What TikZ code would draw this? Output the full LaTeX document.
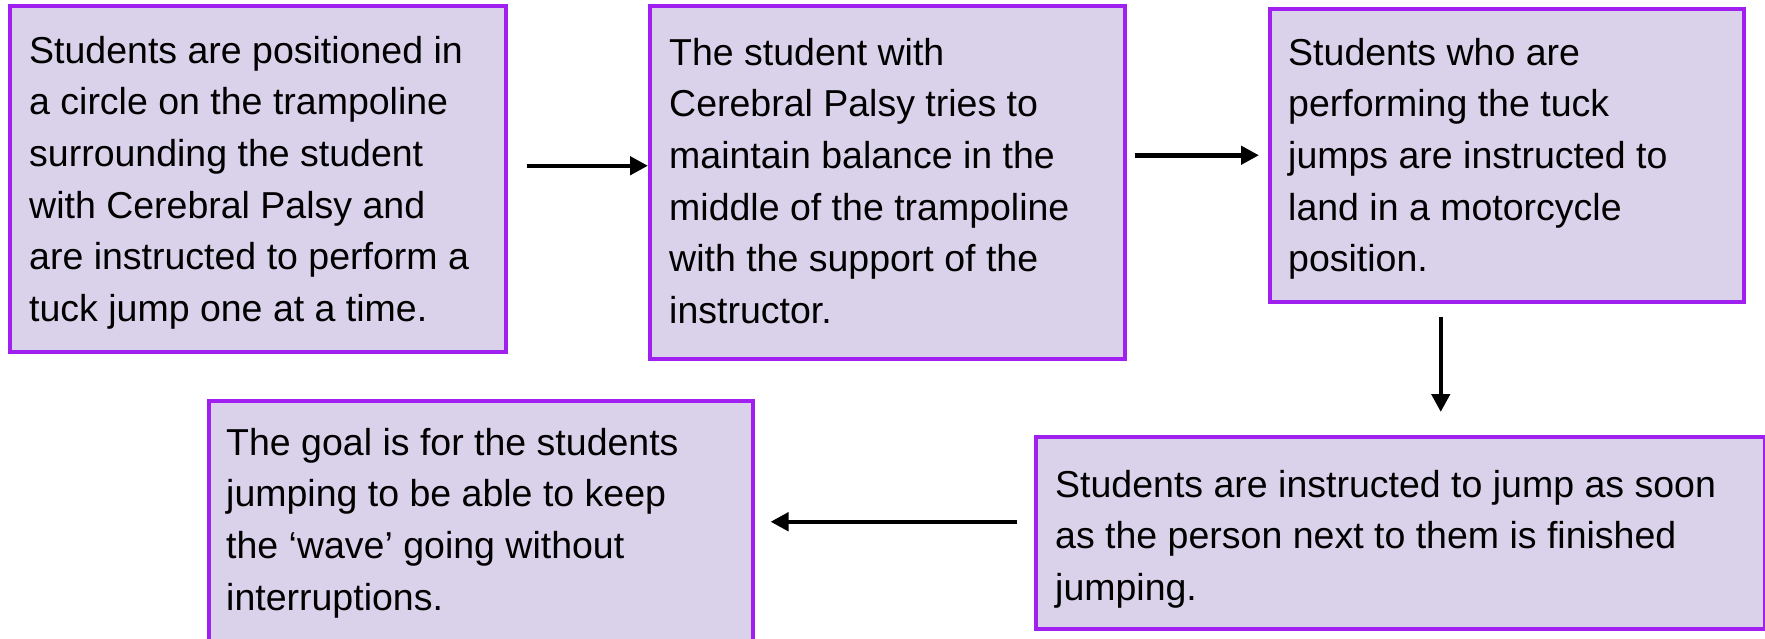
\documentclass[tikz,border=0pt]{standalone}
\usepackage{fontspec}
\setmainfont{Liberation Sans}
\usetikzlibrary{arrows.meta,calc}
\definecolor{boxfill}{RGB}{218,210,234}
\definecolor{boxline}{RGB}{160,32,240}
\begin{document}
\begin{tikzpicture}[x=1pt,y=-1pt,
  stepbox/.style={draw=boxline, fill=boxfill, line width=3.5pt, anchor=north west, inner sep=0pt},
  txt/.style={anchor=base west, inner sep=0pt, font=\fontsize{37.5}{51.7}\selectfont},
  flow/.style={line width=4.5pt, -{Triangle[length=18pt,width=18pt]}}]
\useasboundingbox (0,0) rectangle (1765,638);
\node[stepbox, minimum width=496pt, minimum height=346pt] (b1) at (8,4) {};
\node[stepbox, minimum width=475pt, minimum height=353pt] (b2) at (648,4) {};
\node[stepbox, minimum width=474pt, minimum height=293pt] (b3) at (1268,7) {};
\node[stepbox, minimum width=729pt, minimum height=192pt] (b4) at (1034,435) {};
\node[stepbox, minimum width=544pt, minimum height=260pt] (b5) at (207,399) {};
\node[txt] (t1) at (29,63) {\parbox[t]{800pt}{Students are positioned in\\
a circle on the trampoline\\
surrounding the student\\
with Cerebral Palsy and\\
are instructed to perform a\\
tuck jump one at a time.}};
\node[txt] (t2) at (669,65) {\parbox[t]{800pt}{The student with\\
Cerebral Palsy tries to\\
maintain balance in the\\
middle of the trampoline\\
with the support of the\\
instructor.}};
\node[txt] (t3) at (1288,65) {\parbox[t]{800pt}{Students who are\\
performing the tuck\\
jumps are instructed to\\
land in a motorcycle\\
position.}};
\node[txt] (t4) at (1055,497) {\parbox[t]{800pt}{Students are instructed to jump as soon\\
as the person next to them is finished\\
jumping.}};
\node[txt] (t5) at (226,455) {\parbox[t]{800pt}{The goal is for the students\\
jumping to be able to keep\\
the ‘wave’ going without\\
interruptions.}};
\draw[flow] ([shift={(19,-13)}]b1.east) coordinate (a1s) -- (b2.west |- a1s);
\draw[flow] ([shift={(8,-27)}]b2.east) coordinate (a2s) -- ($(b3.west |- a2s)+(-9,0)$);
\draw[flow] ([shift={(-66,13)}]b3.south) coordinate (a3s) -- ($(b4.north -| a3s)+(0,-23)$);
\draw[flow] ([shift={(-17,-11)}]b4.west) coordinate (a4s) -- ($(b5.east |- a4s)+(16,0)$);
\end{tikzpicture}
\end{document}
